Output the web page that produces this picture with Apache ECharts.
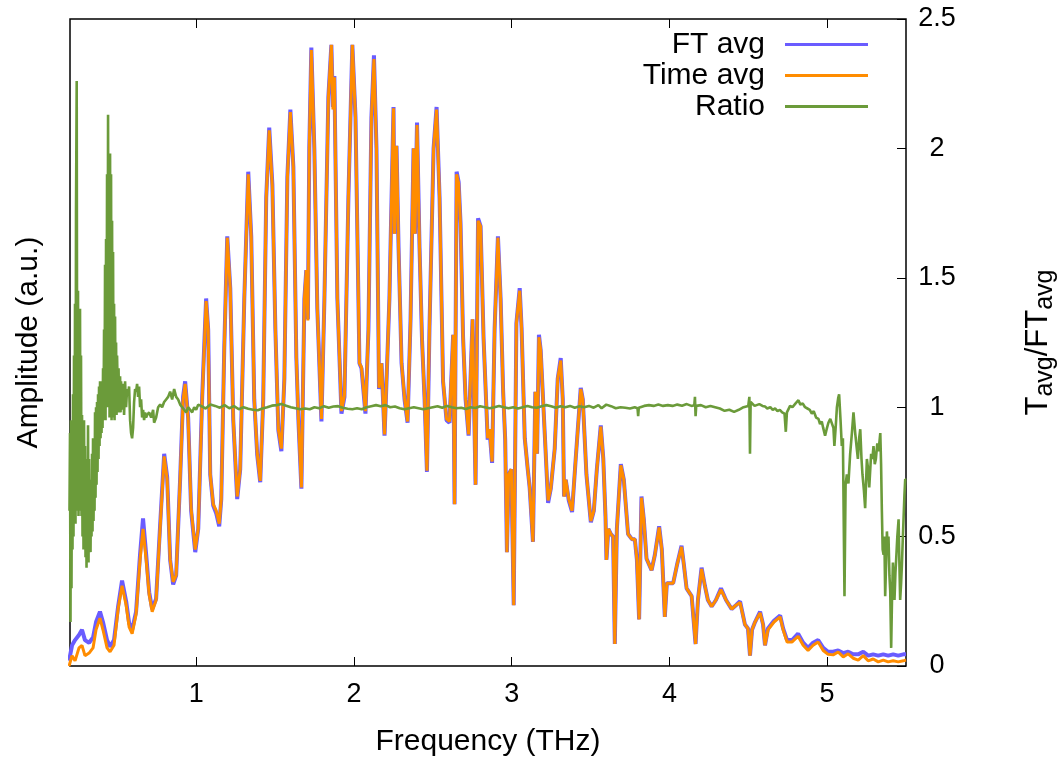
<!DOCTYPE html>
<html>
<head>
<meta charset="utf-8">
<script src="https://cdn.jsdelivr.net/npm/echarts@6/dist/echarts.min.js"></script>
<style>
html,body{margin:0;padding:0;background:#fff;}
#chart{width:1058px;height:763px;}
</style>
</head>
<body>
<div id="chart"></div>
<script>
// ---- data ----
const xTicks = [1, 2, 3, 4, 5];
const y2Ticks = [0, 0.5, 1, 1.5, 2, 2.5];

const ampFreq = [
0.194,0.213,0.232,0.257,0.276,0.295,0.321,0.346,0.365,0.390,
0.409,0.435,0.454,0.479,0.505,0.530,0.556,0.575,0.594,0.619,
0.644,0.663,0.683,0.702,0.721,0.746,0.771,0.797,0.816,0.835,
0.854,0.873,0.898,0.917,0.930,0.949,0.968,0.994,1.013,1.038,
1.063,1.076,1.089,1.108,1.127,1.146,1.159,1.178,1.197,1.216,
1.235,1.260,1.279,1.305,1.330,1.349,1.368,1.387,1.406,1.425,
1.444,1.463,1.483,1.502,1.521,1.540,1.559,1.578,1.597,1.616,
1.635,1.648,1.667,1.686,1.698,1.708,1.717,1.730,1.749,1.768,
1.794,1.813,1.838,1.857,1.867,1.876,1.895,1.921,1.940,1.965,
1.990,2.010,2.035,2.048,2.073,2.092,2.111,2.127,2.143,2.159,
2.175,2.194,2.206,2.225,2.251,2.257,2.270,2.283,2.302,2.321,
2.340,2.359,2.378,2.387,2.400,2.416,2.432,2.448,2.463,2.479,
2.505,2.524,2.543,2.565,2.587,2.606,2.629,2.638,2.651,2.664,
2.676,2.692,2.708,2.727,2.752,2.771,2.787,2.803,2.822,2.848,
2.860,2.876,2.892,2.913,2.930,2.946,2.959,2.970,2.981,2.998,
3.013,3.030,3.038,3.051,3.063,3.083,3.102,3.114,3.135,3.150,
3.161,3.173,3.184,3.210,3.231,3.248,3.273,3.292,3.311,3.324,
3.332,3.343,3.362,3.383,3.406,3.438,3.451,3.474,3.502,3.521,
3.540,3.565,3.581,3.595,3.601,3.613,3.629,3.643,3.654,3.667,
3.692,3.711,3.738,3.762,3.781,3.794,3.808,3.823,3.838,3.855,
3.887,3.908,3.935,3.952,3.971,3.984,4.024,4.048,4.077,4.092,
4.109,4.141,4.166,4.181,4.204,4.225,4.244,4.268,4.295,4.327,
4.359,4.395,4.422,4.448,4.479,4.498,4.511,4.524,4.543,4.575,
4.594,4.606,4.625,4.663,4.702,4.721,4.746,4.778,4.816,4.848,
4.879,4.911,4.943,4.975,5.006,5.038,5.070,5.102,5.133,5.165,
5.197,5.229,5.260,5.292,5.324,5.356,5.387,5.419,5.451,5.483,
5.500
];

const timeAvg = [
0.00,0.04,0.02,0.07,0.08,0.04,0.05,0.07,0.14,0.185,
0.14,0.07,0.055,0.08,0.22,0.31,0.235,0.15,0.125,0.20,
0.41,0.53,0.41,0.275,0.21,0.255,0.53,0.81,0.72,0.41,
0.325,0.35,0.72,1.03,1.09,0.955,0.605,0.45,0.53,1.03,
1.41,1.30,0.74,0.625,0.60,0.55,0.645,1.225,1.655,1.46,
0.955,0.655,0.76,1.42,1.90,1.655,1.03,0.82,0.715,1.03,
1.81,2.07,1.85,1.30,0.915,0.84,1.11,1.885,2.14,1.925,
1.19,0.955,0.69,1.42,1.53,1.335,2.00,2.38,2.00,1.38,
0.955,1.42,2.195,2.40,2.15,2.275,1.42,0.985,1.045,1.81,
2.40,2.12,1.17,1.155,0.985,1.30,2.12,2.345,2.00,1.075,
1.17,0.895,1.09,1.42,2.155,1.67,2.01,1.615,1.17,1.035,
0.945,1.34,2.00,1.67,2.09,1.615,1.255,1.03,0.755,1.305,
2.00,2.15,1.81,1.105,0.955,0.945,1.28,0.625,1.90,1.865,
1.705,1.27,1.035,0.895,1.34,0.70,1.72,1.70,1.265,0.88,
0.915,0.79,1.305,1.655,1.42,1.06,0.875,0.44,0.74,0.76,
0.235,1.325,1.325,1.45,1.305,0.88,0.76,0.69,0.48,1.06,
0.82,1.27,1.22,0.895,0.64,0.685,0.84,1.11,1.18,1.03,
0.655,0.72,0.645,0.60,0.80,1.07,1.03,0.74,0.56,0.60,
0.76,0.925,0.80,0.575,0.41,0.53,0.51,0.50,0.085,0.53,
0.775,0.72,0.51,0.49,0.49,0.41,0.18,0.65,0.565,0.415,
0.37,0.43,0.535,0.45,0.19,0.32,0.32,0.39,0.46,0.39,
0.30,0.27,0.085,0.255,0.375,0.31,0.255,0.23,0.255,0.295,
0.255,0.22,0.235,0.245,0.16,0.145,0.04,0.14,0.17,0.205,
0.16,0.08,0.14,0.17,0.19,0.14,0.093,0.093,0.115,0.08,
0.06,0.08,0.093,0.06,0.045,0.043,0.054,0.035,0.047,0.03,
0.023,0.04,0.02,0.027,0.016,0.023,0.016,0.02,0.016,0.02,
0.023
];

const ftAvg = [
0.02,0.08,0.10,0.12,0.14,0.10,0.09,0.11,0.17,0.21,
0.17,0.10,0.075,0.10,0.23,0.33,0.25,0.165,0.14,0.21,
0.43,0.57,0.43,0.285,0.22,0.26,0.54,0.82,0.73,0.41,
0.315,0.35,0.72,1.04,1.10,0.96,0.60,0.44,0.53,1.04,
1.42,1.30,0.74,0.62,0.59,0.54,0.645,1.23,1.66,1.46,
0.95,0.645,0.76,1.42,1.91,1.66,1.03,0.815,0.71,1.03,
1.81,2.08,1.86,1.30,0.91,0.83,1.11,1.89,2.15,1.93,
1.19,0.95,0.685,1.42,1.53,1.34,2.00,2.39,2.00,1.38,
0.945,1.42,2.20,2.40,2.16,2.28,1.42,0.975,1.04,1.81,
2.40,2.12,1.17,1.15,0.975,1.30,2.12,2.36,2.00,1.07,
1.17,0.89,1.09,1.42,2.16,1.67,2.01,1.615,1.17,1.03,
0.94,1.34,2.00,1.67,2.10,1.615,1.255,1.03,0.75,1.305,
2.00,2.16,1.81,1.10,0.95,0.94,1.28,0.625,1.91,1.87,
1.71,1.27,1.03,0.89,1.34,0.70,1.73,1.70,1.265,0.875,
0.91,0.785,1.305,1.66,1.42,1.06,0.875,0.44,0.74,0.76,
0.235,1.325,1.325,1.46,1.305,0.88,0.76,0.69,0.48,1.06,
0.82,1.28,1.22,0.895,0.63,0.685,0.84,1.11,1.19,1.03,
0.655,0.72,0.64,0.595,0.80,1.075,1.03,0.74,0.555,0.60,
0.76,0.93,0.80,0.575,0.41,0.53,0.51,0.50,0.085,0.53,
0.78,0.72,0.51,0.49,0.49,0.41,0.18,0.655,0.565,0.415,
0.37,0.43,0.54,0.45,0.19,0.32,0.32,0.39,0.465,0.39,
0.30,0.27,0.085,0.255,0.38,0.31,0.255,0.23,0.255,0.30,
0.255,0.22,0.235,0.25,0.16,0.145,0.04,0.14,0.17,0.21,
0.16,0.08,0.145,0.175,0.195,0.145,0.10,0.10,0.125,0.09,
0.07,0.09,0.10,0.07,0.055,0.055,0.06,0.05,0.055,0.045,
0.045,0.055,0.04,0.045,0.04,0.045,0.04,0.045,0.04,0.045,
0.045
];

// [frequency (THz), Tavg/FTavg]
const ratioPoints = [
[0.1968,0.60],[0.2000,0.90],[0.2032,0.17],[0.2063,0.95],[0.2095,0.30],[0.2127,0.92],[0.2159,0.45],[0.2190,1.05],[0.2222,0.50],[0.2254,1.20],
[0.2286,0.55],[0.2317,1.40],[0.2349,0.55],[0.2381,1.75],[0.2425,2.26],[0.2463,0.60],[0.2508,1.45],[0.2540,0.58],[0.2571,1.35],[0.2603,0.60],
[0.2635,1.38],[0.2667,0.62],[0.2698,1.20],[0.2730,0.58],[0.2762,0.97],[0.2794,0.50],[0.2825,0.93],[0.2857,0.45],[0.2889,0.95],[0.2921,0.55],
[0.2952,0.85],[0.2984,0.42],[0.3016,0.80],[0.3048,0.38],[0.3079,0.75],[0.3111,0.40],[0.3143,0.93],[0.3175,0.40],[0.3206,0.80],[0.3238,0.45],
[0.3270,0.70],[0.3302,0.44],[0.3333,0.72],[0.3365,0.50],[0.3397,0.82],[0.3429,0.52],[0.3460,0.88],[0.3492,0.56],[0.3524,0.80],[0.3556,0.60],
[0.3587,0.98],[0.3619,0.65],[0.3651,1.00],[0.3683,0.70],[0.3714,1.02],[0.3746,0.75],[0.3778,1.05],[0.3810,0.80],[0.3841,1.08],[0.3873,0.85],
[0.3905,1.10],[0.3937,0.88],[0.3968,1.05],[0.4000,0.90],[0.4032,1.10],[0.4063,0.92],[0.4095,1.15],[0.4127,0.95],[0.4159,1.30],[0.4190,0.97],
[0.4222,1.55],[0.4254,0.95],[0.4286,1.65],[0.4317,1.00],[0.4349,1.90],[0.4381,1.00],[0.4413,2.13],[0.4444,1.05],[0.4476,1.95],[0.4508,0.96],
[0.4540,1.98],[0.4571,0.97],[0.4603,1.90],[0.4635,0.95],[0.4667,1.72],[0.4698,0.98],[0.4730,1.60],[0.4762,0.96],[0.4794,1.40],[0.4825,0.95],
[0.4857,1.35],[0.4889,0.98],[0.4921,1.25],[0.4952,0.97],[0.4984,1.20],[0.5048,0.99],[0.5079,1.15],[0.5111,0.98],[0.5175,1.12],[0.5206,0.98],
[0.5238,1.10],[0.5302,0.99],[0.5365,1.09],[0.5429,0.97],[0.5492,1.10],[0.5556,1.00],[0.5619,1.07],[0.5683,1.05],[0.5746,1.08],[0.5810,0.95],
[0.5873,0.90],[0.5937,0.88],[0.6000,0.92],[0.6063,1.02],[0.6127,1.07],[0.6190,1.06],[0.6254,1.09],[0.6317,1.04],[0.6381,1.08],[0.6444,1.00],
[0.6508,1.03],[0.6571,0.96],[0.6635,0.99],[0.6698,0.95],[0.6762,0.98],[0.6825,0.96],[0.6889,0.97],[0.7016,0.98],[0.7143,0.96],[0.7270,0.99],
[0.7333,0.94],[0.7460,0.96],[0.7587,1.00],[0.7714,1.01],[0.7841,1.00],[0.7968,1.02],[0.8095,1.03],[0.8222,1.04],[0.8349,1.06],[0.8476,1.03],
[0.8603,1.07],[0.8730,1.04],[0.8857,1.03],[0.8984,1.01],[0.9111,1.00],[0.9238,0.99],[0.9365,0.98],[0.9492,1.00],[0.9619,0.99],[0.9746,0.98],
[0.9873,1.00],[1.0000,0.99],[1.0127,1.01],
[1.03,1.005],[1.06,0.995],[1.09,1.01],[1.12,1.005],[1.15,0.998],[1.18,1.008],[1.21,0.996],[1.24,1.004],[1.27,0.992],[1.30,1.0],
[1.33,0.994],[1.36,0.99],[1.39,0.988],[1.42,0.995],[1.45,1.0],[1.48,1.006],[1.51,1.008],[1.54,1.012],[1.57,1.006],[1.60,1.0],
[1.63,0.996],[1.66,0.992],[1.69,0.995],[1.72,0.992],[1.75,1.0],[1.78,0.996],[1.81,1.004],[1.84,0.998],[1.87,1.003],[1.90,1.004],
[1.93,0.998],[1.96,0.994],[1.99,0.992],[2.02,0.996],[2.05,0.992],[2.08,1.0],[2.11,1.004],[2.14,1.008],[2.17,1.004],[2.20,1.008],
[2.23,1.0],[2.26,1.003],[2.29,0.996],[2.32,0.992],[2.35,0.996],[2.38,1.0],[2.41,0.996],[2.44,0.992],[2.47,0.996],[2.50,1.0],
[2.53,1.004],[2.56,0.998],[2.59,1.005],[2.62,1.0],[2.65,0.996],[2.68,0.998],[2.71,0.993],[2.74,1.0],[2.77,0.997],[2.80,1.004],
[2.83,1.0],[2.86,0.996],[2.89,1.0],[2.92,1.005],[2.95,1.0],[2.98,0.996],[3.01,1.0],[3.04,0.995],[3.07,1.0],[3.10,1.005],
[3.13,1.0],[3.16,0.998],[3.19,1.004],[3.22,1.008],[3.25,1.004],[3.28,0.998],[3.31,1.004],[3.34,1.0],[3.37,1.005],[3.40,0.998],
[3.43,1.004],[3.46,1.0],[3.49,1.005],[3.52,0.998],[3.55,1.008],[3.57,0.996],[3.60,1.01],[3.63,1.004],[3.66,0.996],[3.69,1.0],
[3.72,0.998],[3.75,0.995],[3.78,1.0],[3.798,0.996],[3.802,0.965],[3.806,0.998],[3.84,1.005],[3.87,1.008],[3.90,1.005],[3.93,1.01],
[3.96,1.005],[3.99,1.008],
[4.02,1.005],[4.05,1.01],[4.08,1.006],[4.11,1.012],[4.14,1.005],[4.158,1.008],[4.162,1.04],[4.166,0.965],[4.17,1.005],[4.20,1.008],
[4.23,1.0],[4.26,1.005],[4.29,1.0],[4.32,0.995],[4.35,0.986],[4.38,0.99],[4.41,0.982],[4.44,0.99],[4.47,1.0],[4.50,1.005],
[4.507,1.04],[4.511,0.82],[4.515,1.02],[4.54,1.005],[4.57,1.012],[4.59,1.005],
[4.606,1.003],[4.62,0.995],[4.64,1.0],[4.655,0.99],[4.67,0.995],[4.685,0.985],[4.70,0.99],[4.715,0.98],[4.73,0.975],[4.738,0.905],
[4.745,0.98],[4.765,1.005],[4.78,1.0],[4.80,1.015],[4.818,1.027],[4.83,1.01],[4.845,1.015],[4.86,1.0],[4.875,0.995],[4.89,0.99],
[4.903,0.975],[4.915,0.985],[4.93,0.96],[4.945,0.955],[4.955,0.935],[4.966,0.945],[4.975,0.92],[4.987,0.89],[4.997,0.915],[5.008,0.94],
[5.02,0.955],[5.03,0.96],[5.04,0.92],[5.046,0.85],[5.055,0.93],[5.062,1.0],[5.07,1.035],[5.076,1.05],[5.085,0.95],[5.093,0.85],
[5.10,0.88],[5.110,0.27],[5.117,0.70],[5.125,0.74],[5.135,0.705],[5.146,0.82],[5.157,0.90],[5.167,0.98],[5.178,0.90],[5.188,0.84],
[5.195,0.80],[5.203,0.88],[5.21,0.915],[5.218,0.80],[5.224,0.74],[5.233,0.68],[5.241,0.61],[5.252,0.80],[5.260,0.76],[5.267,0.69],
[5.279,0.82],[5.287,0.80],[5.294,0.85],[5.302,0.78],[5.309,0.80],[5.318,0.86],[5.326,0.83],[5.337,0.90],[5.342,0.78],[5.347,0.60],
[5.352,0.45],[5.358,0.43],[5.363,0.50],[5.368,0.27],[5.374,0.40],[5.379,0.52],[5.384,0.46],[5.389,0.50],[5.395,0.35],[5.400,0.29],
[5.406,0.07],[5.411,0.25],[5.417,0.40],[5.422,0.33],[5.427,0.255],[5.433,0.36],[5.438,0.415],[5.445,0.50],[5.453,0.567],[5.458,0.40],
[5.463,0.255],[5.469,0.32],[5.474,0.39],[5.479,0.48],[5.485,0.577],[5.490,0.66],[5.495,0.721],[5.50,0.72]
];

// ---- chart ----
const FONT = 'Liberation Sans, Arial, sans-serif';
const FS = 30;      // titles and key
const FT = 27;      // tick labels
const zip = (xs, ys) => xs.map((x, i) => [x, ys[i]]);

const chart = echarts.init(document.getElementById('chart'), null, {renderer: 'canvas'});
chart.setOption({
  animation: false,
  backgroundColor: '#ffffff',
  textStyle: {fontFamily: FONT, color: '#000'},
  grid: {left: 70, right: 152, top: 19, bottom: 97, show: true, borderColor: '#000', borderWidth: 1.5,
         backgroundColor: 'transparent', containLabel: false, outerBoundsMode: 'none'},
  legend: {
    orient: 'vertical', align: 'right', right: 185, top: 24,
    itemWidth: 83, itemHeight: 3, itemGap: 0, icon: 'rect',
    textStyle: {fontFamily: FONT, fontSize: FS, color: '#000', lineHeight: 31, padding: [0, 15, 0, 0]},
    data: ['FT avg', 'Time avg', 'Ratio']
  },
  xAxis: [{
    type: 'value', min: 0.2, max: 5.5, position: 'bottom',
    name: 'Frequency (THz)', nameLocation: 'middle', nameGap: 61,
    nameTextStyle: {fontFamily: FONT, fontSize: FS, color: '#000'},
    axisLine: {show: false, onZero: false}, splitLine: {show: false},
    axisTick: {show: true, inside: true, length: 9, lineStyle: {color: '#000', width: 1}, customValues: xTicks},
    axisLabel: {show: true, margin: 15, fontFamily: FONT, fontSize: FT, color: '#000', customValues: xTicks}
  }, {
    type: 'value', min: 0.2, max: 5.5, position: 'top', show: true,
    axisLine: {show: false, onZero: false}, splitLine: {show: false},
    axisTick: {show: true, inside: true, length: 9, lineStyle: {color: '#000', width: 1}, customValues: xTicks},
    axisLabel: {show: false}
  }],
  yAxis: [{
    type: 'value', min: 0, max: 2.5, position: 'left',
    name: 'Amplitude (a.u.)', nameLocation: 'middle', nameGap: 26, nameRotate: 90,
    nameTextStyle: {fontFamily: FONT, fontSize: FS, color: '#000'},
    axisLine: {show: false, onZero: false}, axisTick: {show: false}, axisLabel: {show: false}, splitLine: {show: false}
  }, {
    type: 'value', min: 0, max: 2.5, interval: 0.5, position: 'right',
    name: '{n|T}{s|avg}{n|/FT}{s|avg}', nameLocation: 'middle', nameGap: 113, nameRotate: 90,
    nameTextStyle: {fontFamily: FONT, fontSize: 31, color: '#000', rich: {
      n: {fontFamily: FONT, fontSize: 31, color: '#000'},
      s: {fontFamily: FONT, fontSize: 25, color: '#000', padding: [14, 0, 0, 0]}
    }},
    axisLine: {show: false, onZero: false}, splitLine: {show: false},
    axisTick: {show: true, inside: true, length: 9, lineStyle: {color: '#000', width: 1}, customValues: y2Ticks},
    axisLabel: {show: true, margin: 31, align: 'center', fontFamily: FONT, fontSize: FT, color: '#000', customValues: y2Ticks}
  }],
  series: [{
    name: 'FT avg', type: 'line', xAxisIndex: 0, yAxisIndex: 0,
    data: zip(ampFreq, ftAvg), showSymbol: false, symbol: 'none',
    lineStyle: {color: '#6a5cff', width: 4}, itemStyle: {color: '#6a5cff'}
  }, {
    name: 'Time avg', type: 'line', xAxisIndex: 0, yAxisIndex: 0,
    data: zip(ampFreq, timeAvg), showSymbol: false, symbol: 'none',
    lineStyle: {color: '#ff8c00', width: 3}, itemStyle: {color: '#ff8c00'}
  }, {
    name: 'Ratio', type: 'line', xAxisIndex: 1, yAxisIndex: 1,
    data: ratioPoints, showSymbol: false, symbol: 'none',
    lineStyle: {color: '#6b9b3a', width: 2.6}, itemStyle: {color: '#6b9b3a'}
  }]
});
if (ampFreq.length !== timeAvg.length || ampFreq.length !== ftAvg.length) {
  console.error('length mismatch', ampFreq.length, timeAvg.length, ftAvg.length);
}
</script>
</body>
</html>
